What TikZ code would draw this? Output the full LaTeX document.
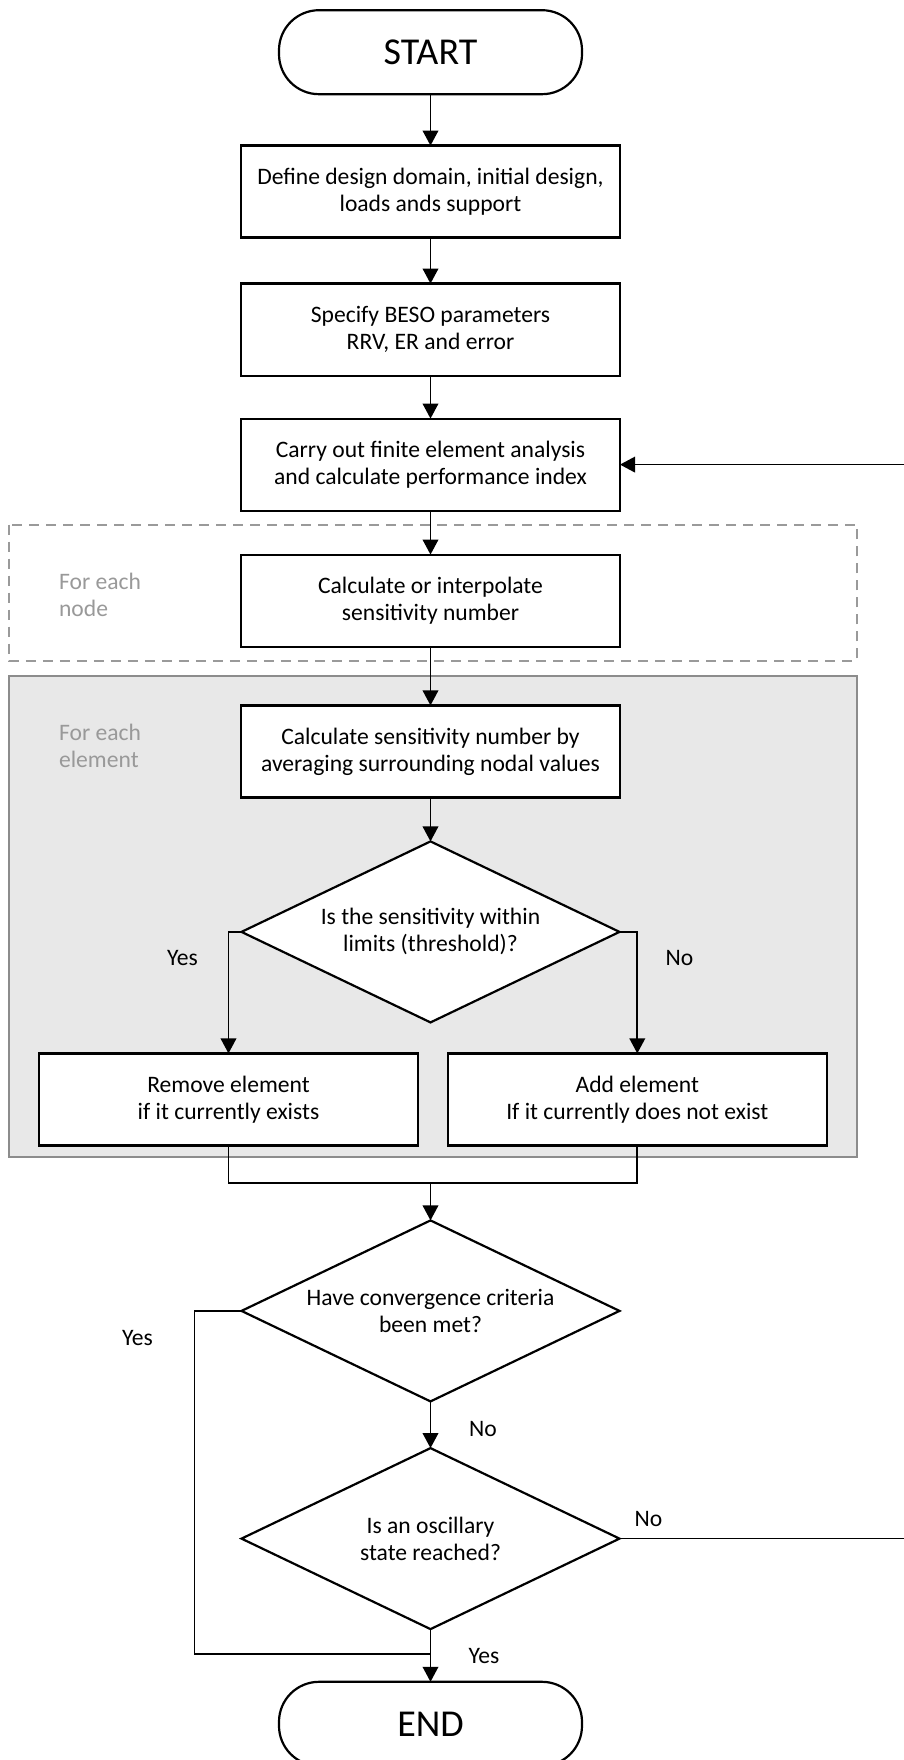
\documentclass[tikz,border=0pt]{standalone}
\usepackage{fontspec}
\setmainfont{Carlito}
\usetikzlibrary{positioning,shapes.geometric,arrows.meta,calc,backgrounds}
\definecolor{groupgray}{HTML}{8C8C8C}
\definecolor{dashgray}{HTML}{9A9A9A}
\definecolor{groupfill}{HTML}{E8E8E8}
\definecolor{grouptext}{HTML}{999999}

\begin{document}
\begin{tikzpicture}[
        font=\fontsize{11.8}{13.5}\selectfont,
        box/.style={draw, line width=1.1pt, outer sep=0pt, fill=white, minimum width=189.5pt, minimum height=46pt, align=center, inner sep=2pt},
        term/.style={draw, line width=1.1pt, outer sep=0pt, rounded corners=20pt, minimum width=151.5pt, minimum height=42pt, font=\fontsize{19}{22}\selectfont},
        decision/.style={draw, diamond, line width=1.1pt, outer sep=0pt, fill=white, minimum width=189pt, minimum height=90.5pt, aspect=2.09, inner sep=0pt, align=center},
        arr/.style={-{Triangle[length=7.5pt,width=7.8pt]}, line width=0.85pt},
        conn/.style={line width=0.85pt},
        grplbl/.style={text=grouptext, align=left, anchor=west},
        grpdash/.style={draw=dashgray, line width=1pt, dash pattern=on 5pt off 3.5pt},
        grpfill/.style={draw=groupgray, fill=groupfill, line width=1pt}
    ]
        \useasboundingbox (-215.25pt,26.1pt) rectangle (236.75pt,-853.9pt);
        \node[term] (start) at (0,0) {START};
        \node[box, below=25.7pt of start] (def) {Define design domain, initial design,\\loads ands support};
        \node[box, below=23pt of def] (param) {Specify BESO parameters\\RRV, ER and error};
        \node[box, below=21.5pt of param] (fea) {Carry out finite element analysis\\and calculate performance index};
        \node[box, below=22pt of fea] (interp) {Calculate or interpolate\\sensitivity number};
        \node[box, below=29.4pt of interp] (avg) {Calculate sensitivity number by\\averaging surrounding nodal values};
        \node[decision, below=22pt of avg] (chk) {Is the sensitivity within\\limits (threshold)?};
        \node[box, below=15.5pt of chk, xshift=-101pt] (rem) {Remove element\\if it currently exists};
        \node[box, below=15.5pt of chk, xshift=103.4pt] (add) {Add element\\If it currently does not exist};
        \coordinate (mrg) at ($(rem.south -| chk.south)+(0,-18.85pt)$);
        \node[decision, below=18.65pt of mrg] (conv) {Have convergence criteria\\been met?};
        \node[decision, below=23.35pt of conv] (osc) {Is an oscillary\\state reached?};
        \node[term, below=26.35pt of osc] (stop) {END};
        \coordinate (jn) at ($(osc.south)+(0,-12.5pt)$);
        \coordinate (rt) at (240pt,0);

        \draw[arr] (start) -- (def);
        \draw[arr] (def) -- (param);
        \draw[arr] (param) -- (fea);
        \draw[arr] (fea) -- (interp);
        \draw[arr] (interp) -- (avg);
        \draw[arr] (avg) -- (chk);
        \draw[arr] (chk.west) -| (rem);
        \draw[arr] (chk.east) -| (add);
        \draw[conn] (rem.south) |- (mrg) -| (add.south);
        \draw[arr] (mrg) -- (conv);
        \draw[arr] (conv) -- (osc);
        \draw[arr] (osc) -- (stop);
        \draw[conn] (conv.west) -- ++(-23.5pt,0) |- (jn);
        \draw[arr] (osc.east) -- (osc.east -| rt) -- (fea.east -| rt) -- (fea.east);

        \node (yes1) at ($(chk.west)+(-29.5pt,-13pt)$) {Yes};
        \node (no1) at ($(chk.east)+(30pt,-13pt)$) {No};
        \node (yes2) at ($(conv.west)+(-52pt,-13.5pt)$) {Yes};
        \node (no2) at ($(conv.south)+(26.25pt,-14pt)$) {No};
        \node (no3) at ($(osc.east)+(14.5pt,9.75pt)$) {No};
        \node (yes3) at ($(osc.south)+(26.75pt,-13.35pt)$) {Yes};

        \node[grplbl] (eachnode) at ($(interp.west -| rem.west)+(6.5pt,3pt)$) {For each\\node};
        \node[grplbl] (eachelem) at ($(avg.west -| rem.west)+(6.5pt,3pt)$) {For each\\element};

        \begin{scope}[on background layer]
            \draw[grpdash] ($(interp.north -| rem.west)+(-15pt,15pt)$) rectangle ($(interp.south -| add.east)+(15pt,-7pt)$);
            \draw[grpfill] ($(avg.north -| rem.west)+(-15pt,14.5pt)$) rectangle ($(add.south east)+(15pt,-6pt)$);
        \end{scope}
    \end{tikzpicture}
\end{document}
